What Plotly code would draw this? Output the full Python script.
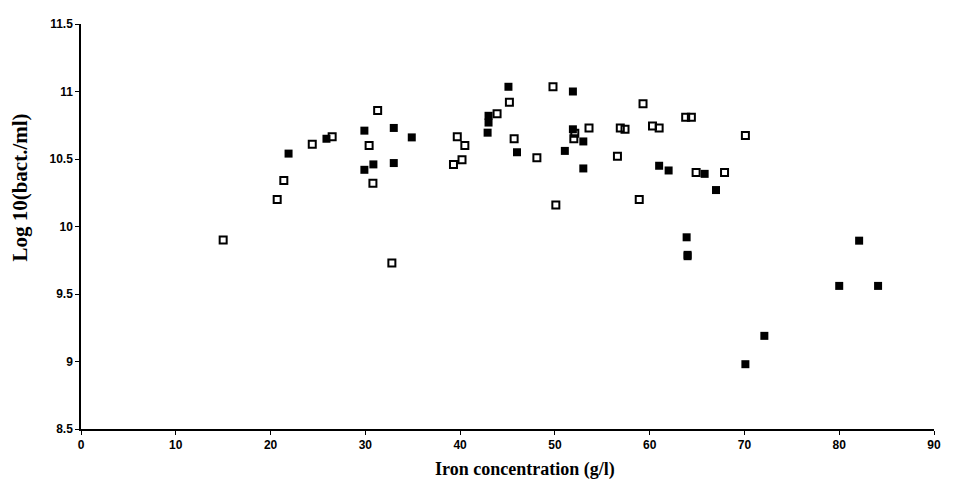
import plotly.graph_objects as go

# Open squares series
open_x = [15, 20.7, 21.4, 24.4, 26.5, 30.4, 30.8, 31.3, 32.8, 39.3, 39.7, 40.2, 40.5,
          43.9, 45.2, 45.7, 48.1, 49.8, 50.1, 52.1, 52.0, 53.6, 56.6, 56.9, 57.4, 58.9,
          59.3, 60.3, 61.0, 63.8, 64.4, 64.9, 67.9, 70.1]
open_y = [9.9, 10.2, 10.34, 10.61, 10.665, 10.6, 10.32, 10.86, 9.73, 10.46, 10.665, 10.495, 10.6,
          10.835, 10.92, 10.65, 10.51, 11.035, 10.16, 10.69, 10.65, 10.73, 10.52, 10.73, 10.72, 10.2,
          10.91, 10.745, 10.73, 10.81, 10.81, 10.4, 10.4, 10.675]

# Filled squares series
fill_x = [21.9, 25.9, 29.9, 29.9, 30.85, 33.0, 33.0, 34.9, 43.0, 43.0, 42.9, 45.1, 46.0,
          51.05, 51.9, 51.9, 53.0, 53.0, 61.0, 62.0, 63.9, 64.0, 64.0, 65.8, 67.0,
          70.1, 72.1, 80.0, 82.1, 84.1]
fill_y = [10.54, 10.65, 10.71, 10.42, 10.46, 10.73, 10.47, 10.66, 10.82, 10.77, 10.695, 11.035, 10.55,
          10.56, 11.0, 10.72, 10.63, 10.43, 10.45, 10.415, 9.92, 9.79, 9.78, 10.39, 10.27,
          8.98, 9.19, 9.56, 9.895, 9.56]

x_ticks = [0, 10, 20, 30, 40, 50, 60, 70, 80, 90]
y_ticks = [8.5, 9, 9.5, 10, 10.5, 11, 11.5]
y_labels = ["8.5", "9", "9.5", "10", "10.5", "11", "11.5"]

fig = go.Figure()
fig.add_trace(go.Scatter(
    x=open_x, y=open_y, mode="markers",
    marker=dict(symbol="square-open", size=7, color="black", line=dict(width=2, color="black")),
    showlegend=False))
fig.add_trace(go.Scatter(
    x=fill_x, y=fill_y, mode="markers",
    marker=dict(symbol="square", size=8, color="black"),
    showlegend=False))

tickfont = dict(family="Liberation Sans, Arial", size=12, color="black", weight="bold")
titlefont = dict(family="Liberation Serif, Times New Roman", size=18, color="black", weight="bold")

fig.update_layout(
    width=953, height=496,
    margin=dict(l=81, r=13, t=24, b=67),
    paper_bgcolor="white", plot_bgcolor="white",
    xaxis=dict(range=[0, 90], tickvals=x_ticks, showgrid=False, zeroline=False,
               showline=True, linecolor="black", linewidth=1.5,
               ticks="outside", ticklen=4, tickcolor="black", tickwidth=1,
               tickfont=tickfont),
    yaxis=dict(range=[8.5, 11.5], tickvals=y_ticks, ticktext=y_labels, showgrid=False, zeroline=False,
               showline=True, linecolor="black", linewidth=1.5,
               ticks="outside", ticklen=4, tickcolor="black", tickwidth=1,
               tickfont=tickfont),
    annotations=[
        dict(text="Log 10(bact./ml)", textangle=-90, showarrow=False,
             xref="paper", yref="paper", x=-0.072, y=0.595,
             xanchor="center", yanchor="middle",
             font=dict(family="Liberation Serif, Times New Roman", size=21,
                       color="black", weight="bold")),
        dict(text="Iron concentration (g/l)", showarrow=False,
             xref="paper", yref="paper", x=0.52, y=-0.10,
             xanchor="center", yanchor="middle", font=titlefont),
    ],
)

fig.write_html("out.html")
